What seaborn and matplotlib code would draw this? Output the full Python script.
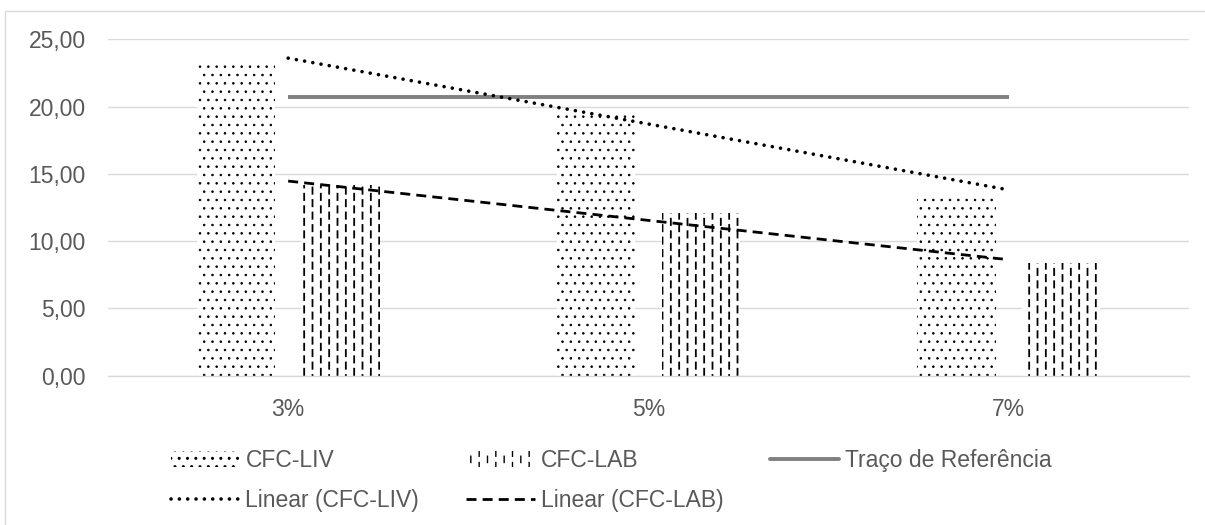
import numpy as np
import pandas as pd
import matplotlib
matplotlib.use("Agg")
import matplotlib.pyplot as plt
import seaborn as sns
from matplotlib import hatch as mhatch
from matplotlib.path import Path
from matplotlib.patches import Patch, Rectangle
from matplotlib.lines import Line2D
from matplotlib.ticker import FuncFormatter


# dados
teores = ["3%", "5%", "7%"]
cfc_liv = [23.2, 19.5, 13.4]
cfc_lab = [14.2, 12.05, 8.35]
traco_ref = [20.7, 20.7, 20.7]
series = ["CFC-LIV", "CFC-LAB"]


# hachura tracejada vertical (padrão do Excel), substitui a '|' normal
class DashedVerticalHatch(mhatch.HatchPatternBase):
    def __init__(self, hatch, density):
        self.num_lines = int(hatch.count('|') * density)
        self.num_dashes = int(self.num_lines * 2 / 3)
        self.num_vertices = self.num_lines * (self.num_dashes + 2) * 2

    def set_vertices_and_codes(self, vertices, codes):
        step = 1.0 / self.num_lines
        period = 1.0 / self.num_dashes
        dash = 0.5 * period
        k = 0
        for i in range(self.num_lines):
            xpos = (i + 0.5) * step
            shift = 0.5 * period * (i % 2)
            for j in range(-1, self.num_dashes + 1):
                y0 = j * period + shift
                vertices[k] = (xpos, y0)
                vertices[k + 1] = (xpos, y0 + dash)
                codes[k] = Path.MOVETO
                codes[k + 1] = Path.LINETO
                k += 2


mhatch._hatch_types[1] = DashedVerticalHatch


sns.set_theme(style="white")
plt.rcParams["font.family"] = ["Liberation Sans", "DejaVu Sans"]
plt.rcParams["hatch.color"] = "black"
plt.rcParams["hatch.linewidth"] = 1.0

df = pd.DataFrame({
    "teor": teores * 2,
    "valor": cfc_liv + cfc_lab,
    "serie": [series[0]] * 3 + [series[1]] * 3,
})

fig = plt.figure(figsize=(12.05, 5.25), dpi=100)
ax = fig.add_axes([108 / 1205, 1 - 375.5 / 525, 1081 / 1205, 336.2 / 525])

sns.barplot(data=df, x="teor", y="valor", hue="serie", order=teores,
            hue_order=series, width=0.58, gap=0.25, ax=ax, legend=False)

hatches = ["..", "||"]
hatch_lw = [0.6, 1.3]
for cont, h, hl in zip(ax.containers, hatches, hatch_lw):
    for bar in cont:
        bar.set_facecolor("white")
        bar.set_edgecolor("black")
        bar.set_linewidth(0)
        bar.set_hatch(h)
        if hasattr(bar, "set_hatch_linewidth"):
            bar.set_hatch_linewidth(hl)

# linhas de tendência (ajuste linear, como no Excel)
pos = np.arange(len(teores))
fit_liv = np.polyval(np.polyfit(pos, cfc_liv, 1), pos)
fit_lab = np.polyval(np.polyfit(pos, cfc_lab, 1), pos)

sns.lineplot(x=pos, y=traco_ref, color="#808080", lw=2.8, ax=ax,
             solid_capstyle="butt", zorder=3)
sns.lineplot(x=pos, y=fit_liv, color="black", lw=2.6, ax=ax,
             linestyle=(0, (0.01, 2.3)), dash_capstyle="round", zorder=4)
sns.lineplot(x=pos, y=fit_lab, color="black", lw=2.0, ax=ax,
             linestyle=(0, (3.6, 2.2)), dash_capstyle="butt", zorder=4)

ax.set_xlim(-0.5, 2.5)
ax.set_ylim(0, 25)
ax.set_yticks(np.arange(0, 26, 5))
ax.yaxis.set_major_formatter(FuncFormatter(lambda v, p: f"{v:.2f}".replace(".", ",")))
ax.grid(axis="y", color="#d9d9d9", lw=1.0)
ax.set_axisbelow(True)
ax.set_xlabel("")
ax.set_ylabel("")
for s in ["top", "right", "left"]:
    ax.spines[s].set_visible(False)
ax.spines["bottom"].set_color("#d9d9d9")
ax.spines["bottom"].set_linewidth(1.0)
ax.tick_params(axis="y", length=0, pad=16, labelsize=16.5, labelcolor="#595959")
ax.tick_params(axis="x", length=0, pad=16, labelsize=16.5, labelcolor="#595959")

handles = [
    Patch(facecolor="white", edgecolor="black", lw=0, hatch=".."),
    Line2D([], [], color="black", lw=2.6, linestyle=(0, (0.01, 2.3)), dash_capstyle="round"),
    Patch(facecolor="white", edgecolor="black", lw=0, hatch="||"),
    Line2D([], [], color="black", lw=2.0, linestyle=(0, (3.6, 2.2))),
    Line2D([], [], color="#808080", lw=2.8),
]
for hnd, hl in [(handles[0], 0.6), (handles[2], 1.3)]:
    if hasattr(hnd, "set_hatch_linewidth"):
        hnd.set_hatch_linewidth(hl)
labels = ["CFC-LIV", "Linear (CFC-LIV)", "CFC-LAB", "Linear (CFC-LAB)",
          "Traço de Referência"]
leg = fig.legend(handles, labels, ncol=3, loc="upper left",
                 bbox_to_anchor=(171 / 1205, 1 - 449 / 525),
                 bbox_transform=fig.transFigure, frameon=False,
                 fontsize=16.5, handlelength=3.0, handletextpad=0.25,
                 columnspacing=2.05, labelspacing=0.75, borderpad=0,
                 borderaxespad=0)
for t in leg.get_texts():
    t.set_color("#595959")

# moldura do gráfico
fig.patches.append(Rectangle((5 / 1205, -0.1), 1.2, 1.1 - 11 / 525,
                             transform=fig.transFigure, fill=False,
                             edgecolor="#d9d9d9", lw=1.0))

fig.savefig("out.png", dpi=100)
